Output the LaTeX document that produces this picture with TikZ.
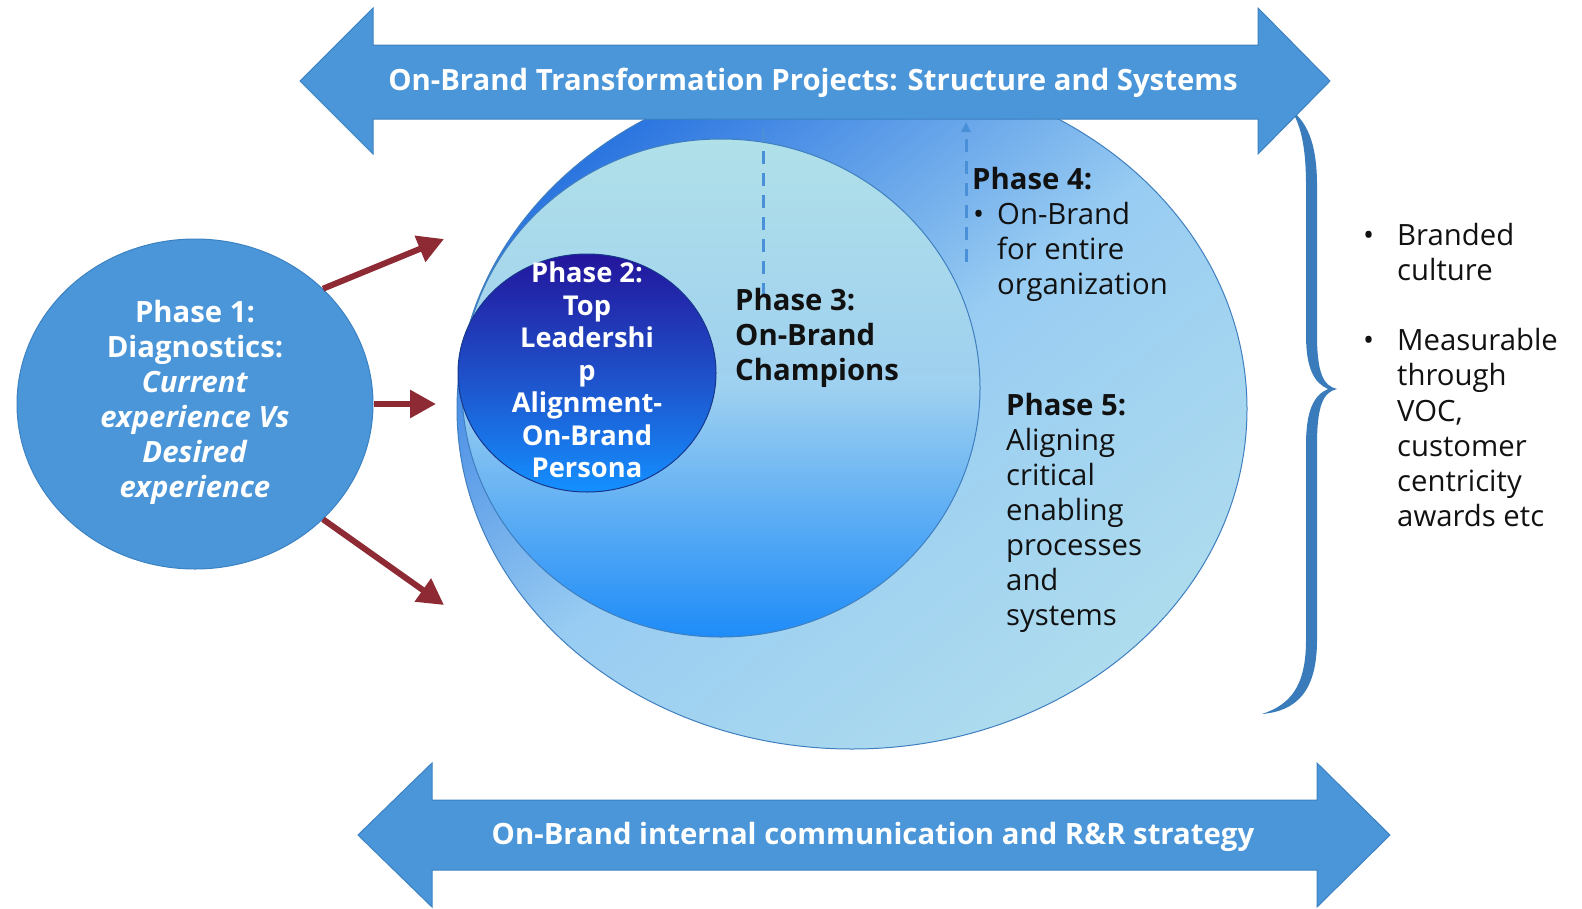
\documentclass[tikz,border=0pt]{standalone}
\usepackage{fontspec}
\setmainfont{Open Sans}
\usetikzlibrary{shapes.geometric,arrows.meta}

\definecolor{bandblue}{HTML}{4A96D9}
\definecolor{bandedge}{HTML}{3C82C2}
\definecolor{bracecol}{HTML}{3A7BBB}
\definecolor{linkred}{HTML}{8E2A33}
\definecolor{dashblue}{HTML}{4A90D9}
\definecolor{ringedge}{HTML}{3F7FBF}
\definecolor{outerA}{HTML}{2A74E0}
\definecolor{outerB}{HTML}{98CCF2}
\definecolor{outerC}{HTML}{AEDCEE}
\definecolor{midA}{HTML}{B0E0E8}
\definecolor{midB}{HTML}{9ED0F0}
\definecolor{midC}{HTML}{1E8CF8}
\definecolor{coreA}{HTML}{23159C}
\definecolor{coreB}{HTML}{1F4FC8}
\definecolor{coreC}{HTML}{1490FF}
\definecolor{inktext}{HTML}{111111}

\tikzset{
  bigarrow/.style={fill=bandblue, draw=bandedge, line width=1pt, line join=miter},
  ringnode/.style={ellipse, inner sep=0pt, draw=ringedge, line width=1pt},
  redconn/.style={draw=linkred, line width=6pt, -{Triangle[length=26pt,width=27pt]}},
  dashconn/.style={draw=dashblue, line width=3pt, dash pattern=on 13pt off 9pt},
  whitetext/.style={text=white, inner sep=0pt, align=center},
  darktext/.style={text=inktext, inner sep=0pt, align=left, anchor=west},
}

\begin{document}
\begin{tikzpicture}[x=1pt,y=-1pt]
\useasboundingbox (0,0) rectangle (1582,908);

% outer ring (phase 5)
\node[ringnode, minimum width=790pt, minimum height=680pt,
      top color=outerA, bottom color=outerC, middle color=outerB, shading angle=38] (p5) at (852,409) {};
% middle ring (phase 3)
\node[ringnode, minimum width=518pt, minimum height=498pt,
      top color=midA, bottom color=midC, middle color=midB] (p3) at (721,388) {};
% inner core (phase 2)
\node[ringnode, draw=coreB!70!black, minimum width=258pt, minimum height=238pt,
      top color=coreA, bottom color=coreC, middle color=coreB] (p2) at (587,373) {};

% dashed links towards the top band
\coordinate (dA1) at (763,296);
\coordinate (dA2) at (763,119);
\draw[dashconn] (dA1) -- (dA2);
\coordinate (dB1) at (966,262);
\coordinate (dB2) at (966,122);
\draw[dashconn, -{Triangle[length=10pt,width=9pt]}] (dB1) -- (dB2);

% curly brace on the right
\fill[bracecol] (1291,110) .. controls (1310,124) and (1317,150) .. (1317,185)
  -- (1317,335) .. controls (1317,372) and (1323,386) .. (1337,389)
  .. controls (1323,392) and (1317,406) .. (1317,445)
  -- (1317,640) .. controls (1317,692) and (1296,711) .. (1262,714)
  .. controls (1289,705) and (1306,688) .. (1306,640)
  -- (1306,445) .. controls (1306,410) and (1314,395) .. (1328,389)
  .. controls (1314,383) and (1306,368) .. (1306,335)
  -- (1306,185) .. controls (1306,152) and (1302,126) .. (1291,110) -- cycle;

% top double arrow
\path[bigarrow] (300,81) -- (373,8) -- (373,45) -- (1258,45) -- (1258,8) -- (1330,81)
  -- (1258,154) -- (1258,119) -- (373,119) -- (373,154) -- cycle;
\node[whitetext, font=\fontsize{29.3}{34}\selectfont\bfseries] (toplabel) at (813,83)
  {On-Brand Transformation Projects: Structure and Systems};

% bottom double arrow
\path[bigarrow] (358,835) -- (432,763) -- (432,800) -- (1317,800) -- (1317,763) -- (1390,835)
  -- (1317,907) -- (1317,870) -- (432,870) -- (432,907) -- cycle;
\node[whitetext, font=\fontsize{29.3}{34}\selectfont\bfseries] (bottomlabel) at (873,837)
  {On-Brand internal communication and R\&R strategy};

% phase 1 disc
\node[ellipse, inner sep=0pt, fill=bandblue, draw=bandedge, line width=1pt,
      minimum width=356pt, minimum height=330pt] (p1) at (195,404) {};
\node[whitetext, font=\fontsize{29.3}{35}\selectfont\bfseries] (p1label) at (195,402)
  {Phase 1:\\Diagnostics:\\\textit{Current}\\\textit{experience Vs}\\\textit{Desired}\\\textit{experience}};

% links from phase 1
\coordinate (t1) at (444,239);
\coordinate (t2) at (436,404);
\coordinate (t3) at (444,605);
\draw[redconn] (p1.42) -- (t1);
\draw[redconn] (p1.east) -- (t2);
\draw[redconn] (p1.-42) -- (t3);

% phase labels
\node[whitetext, font=\fontsize{27.3}{32.5}\selectfont\bfseries] (p2label) at (587,370)
  {Phase 2:\\Top\\Leadershi\\p\\Alignment-\\On-Brand\\Persona};
\node[darktext, font=\fontsize{29.3}{35}\selectfont\bfseries] (p3label) at (735,338)
  {Phase 3:\\On-Brand\\Champions};
\node[darktext, font=\fontsize{29.3}{35}\selectfont] (p4label) at (972,234)
  {\textbf{Phase 4:}\\\makebox[25pt][l]{\hspace*{1pt}•}On-Brand\\\hspace*{25pt}for entire\\\hspace*{25pt}organization};
\node[darktext, font=\fontsize{29.3}{35}\selectfont] (p5label) at (1006,513)
  {\textbf{Phase 5:}\\Aligning\\critical\\enabling\\processes\\and\\systems};

% outcomes
\node[darktext, font=\fontsize{29.3}{35.25}\selectfont] (outcomes) at (1363,375)
  {\makebox[34pt][l]{•}Branded\\\hspace*{34pt}culture\\[35pt]\makebox[34pt][l]{•}Measurable\\\hspace*{34pt}through\\\hspace*{34pt}VOC,\\\hspace*{34pt}customer\\\hspace*{34pt}centricity\\\hspace*{34pt}awards etc};
\end{tikzpicture}
\end{document}
